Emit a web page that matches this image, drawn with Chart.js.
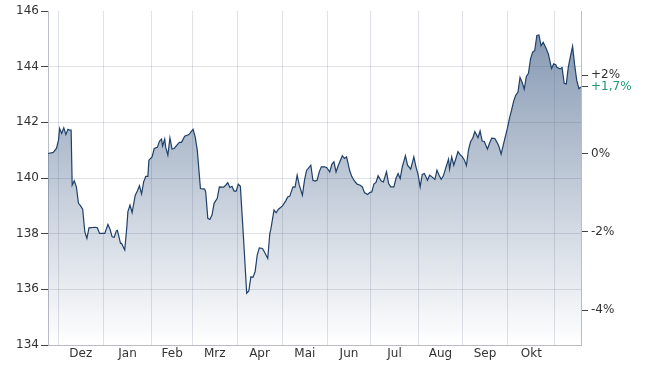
<!DOCTYPE html>
<html>
<head>
<meta charset="utf-8">
<script src="https://cdn.jsdelivr.net/npm/chart.js@4"></script>
<style>
  html, body { margin: 0; background: #fff; }
  #wrap { width: 650px; height: 370px; }
</style>
</head>
<body>
<div id="wrap"><canvas id="chart"></canvas></div>
<script>
// trading-day index (0 = first day shown) and closing price
const days = [
  0, 2.5, 4, 5, 5.5, 6.5, 7.5, 8.5, 9.5, 10, 11, 11.5, 12.5, 13.5, 14.5, 15.5, 16.5, 17.5, 18.5, 19.5,
  22.5, 23.5, 24.5, 27, 28.5, 29.5, 30.5, 31.5, 32.5, 33, 34.5, 35, 36.5, 37.5, 38, 39, 40, 41.5, 42.5, 43.5,
  44.5, 45.5, 46.5, 47.5, 48, 49.5, 50.5, 52, 53, 54, 54.5, 55.5, 56, 57, 58, 59, 60, 61.5, 62.5, 63.5,
  65, 67, 69, 70, 71, 72.5, 74.5, 75, 76, 77, 78, 79, 80.5, 81.5, 83.5, 84.5, 85.5, 86.5, 87.5, 88.5,
  89.5, 90.5, 91.5, 93, 94.5, 95.5, 96.5, 97.5, 98.5, 99.5, 100.5, 102, 103, 104.5, 105.5, 106, 107.5, 108.5, 109.5, 111.5,
  113, 114, 115, 116.5, 117.5, 118.5, 119.5, 121, 122, 123, 124, 125, 126, 127, 128, 129, 130, 131.5, 132.5, 134,
  135, 136, 137, 138, 140, 141, 142, 143.5, 144.5, 145.5, 147, 148.5, 149.5, 150.5, 152, 153, 154, 155, 156, 157,
  158.5, 159.5, 161, 162, 163, 164.5, 165.5, 166.5, 167.5, 168.5, 170, 171, 172.5, 174, 175, 176, 177, 178, 179, 180.5,
  181.5, 182.5, 184, 185, 186, 187, 188, 189.5, 190.5, 191, 192, 193, 194, 195, 196, 197, 198, 199, 200, 201,
  202, 203, 204.5, 205.5, 206.5, 207.5, 209, 210, 211, 212.5, 213.5, 214.5, 215.5, 216.5, 217.5, 218.5, 219.5, 220.5, 221.5, 222.5,
  223.5, 224.5, 225.5, 226.5, 227.5, 228.5, 229.5, 230.5, 231.5, 232.5, 233.5, 234.5, 235.5, 237, 238, 239.5, 240.5, 241.5, 242, 243.5,
  244.5, 245.5, 246.5, 247.5, 248.5, 249.5, 250.5, 251.5, 252.5, 253.5
];
const prices = [
  140.88, 140.92, 141.06, 141.36, 141.78, 141.6, 141.8, 141.56, 141.75, 141.73, 141.72, 139.74, 139.9, 139.68, 139.09, 139.0, 138.88, 138.07, 137.83, 138.21,
  138.23, 138.21, 138.01, 138.01, 138.33, 138.16, 137.89, 137.87, 138.1, 138.12, 137.65, 137.65, 137.41, 138.25, 138.79, 139.03, 138.76, 139.38, 139.53, 139.72,
  139.43, 139.86, 140.06, 140.06, 140.64, 140.76, 141.06, 141.1, 141.32, 141.4, 141.15, 141.4, 141.1, 140.82, 141.44, 141.04, 141.06, 141.2, 141.28, 141.28,
  141.5, 141.56, 141.75, 141.48, 141.0, 139.62, 139.6, 139.5, 138.55, 138.51, 138.67, 139.09, 139.27, 139.68, 139.67, 139.74, 139.83, 139.66, 139.7, 139.53,
  139.53, 139.78, 139.7, 137.83, 135.86, 135.94, 136.45, 136.43, 136.63, 137.23, 137.49, 137.47, 137.33, 137.11, 138.01, 138.16, 138.85, 138.75, 138.87, 139.0,
  139.17, 139.32, 139.35, 139.68, 139.67, 140.1, 139.75, 139.38, 139.92, 140.28, 140.36, 140.46, 139.92, 139.89, 139.92, 140.22, 140.4, 140.4, 140.38, 140.22,
  140.49, 140.58, 140.22, 140.44, 140.8, 140.7, 140.76, 140.26, 140.05, 139.92, 139.78, 139.74, 139.68, 139.48, 139.41, 139.48, 139.5, 139.78, 139.84, 140.08,
  139.89, 139.86, 140.22, 139.8, 139.68, 139.68, 139.98, 140.16, 139.98, 140.4, 140.8, 140.46, 140.32, 140.76, 140.4, 140.13, 139.68, 140.13, 140.16, 139.92,
  140.1, 140.05, 139.95, 140.28, 140.1, 139.95, 140.07, 140.44, 140.68, 140.32, 140.76, 140.46, 140.7, 140.95, 140.84, 140.77, 140.65, 140.45, 141.01, 141.31,
  141.43, 141.67, 141.45, 141.69, 141.33, 141.31, 141.04, 141.25, 141.43, 141.42, 141.29, 141.13, 140.86, 141.17, 141.49, 141.79, 142.15, 142.45, 142.77, 142.98,
  143.08, 143.61, 143.44, 143.19, 143.65, 143.76, 144.28, 144.52, 144.58, 145.12, 145.14, 144.75, 144.88, 144.64, 144.45, 143.93, 144.1, 144.07, 143.98, 143.92,
  143.97, 143.4, 143.38, 144.0, 144.38, 144.73, 144.05, 143.5, 143.21, 143.27
];

// month boundaries (trading-day index) and the labels shown between them
const monthStarts = [4.9, 26.3, 49.4, 68.7, 89.9, 111.3, 133, 153.3, 176.3, 197, 218.7, 241.1];
const monthLabels = ['Dez', 'Jan', 'Feb', 'Mrz', 'Apr', 'Mai', 'Jun', 'Jul', 'Aug', 'Sep', 'Okt'];
const priceTicks = [134, 136, 138, 140, 142, 144, 146];
const pctTicks = [-4, -2, 0, 2];

const base = prices[0];
const lastPct = (prices[prices.length - 1] / base - 1) * 100;
const toPct = v => (v / base - 1) * 100;

const FONT = { family: 'DejaVu Sans', size: 12 };
const TEXT = '#333';
const GRID = 'rgba(30, 40, 80, 0.14)';
const AXIS = '#b9bcc3';
const GREEN = '#1f9a6e';

// x ticks: gridlines at month starts, labels at month middles
const xTicks = [];
monthStarts.forEach((m, i) => {
  xTicks.push({ value: m, grid: true, label: '' });
  if (i < monthLabels.length) {
    xTicks.push({ value: (m + monthStarts[i + 1]) / 2, grid: false, label: monthLabels[i] });
  }
});

const ctx = document.getElementById('chart').getContext('2d');
new Chart(ctx, {
  type: 'line',
  data: {
    datasets: [{
      data: days.map((d, i) => ({ x: d, y: prices[i] })),
      borderColor: '#1f4068',
      borderWidth: 1.2,
      pointRadius: 0,
      tension: 0,
      fill: 'start',
      backgroundColor: c => {
        const area = c.chart.chartArea;
        if (!area) return 'rgba(65,95,135,0.3)';
        const g = c.chart.ctx.createLinearGradient(0, area.top, 0, area.bottom);
        g.addColorStop(0, 'rgba(65,95,135,0.68)');
        g.addColorStop(1, 'rgba(65,95,135,0.0)');
        return g;
      }
    }]
  },
  options: {
    responsive: true,
    maintainAspectRatio: false,
    animation: false,
    layout: { padding: { top: 11, left: 0, right: 0, bottom: 0 } },
    plugins: { legend: { display: false }, tooltip: { enabled: false } },
    scales: {
      x: {
        type: 'linear',
        min: 0,
        max: days[days.length - 1],
        z: 1,
        afterBuildTicks: s => { s.ticks = xTicks.map(t => ({ ...t })); },
        afterFit: s => { s.height = 25; },
        ticks: {
          autoSkip: false,
          maxRotation: 0,
          padding: 2,
          color: TEXT,
          font: FONT,
          callback: (v, i, ticks) => ticks[i].label
        },
        grid: {
          drawTicks: false,
          color: c => (c.tick && c.tick.grid ? GRID : 'rgba(0,0,0,0)')
        },
        border: { color: AXIS }
      },
      y: {
        position: 'left',
        min: 134,
        max: 146,
        z: 1,
        afterBuildTicks: s => { s.ticks = priceTicks.map(v => ({ value: v })); },
        afterFit: s => { s.width = 48; },
        ticks: { color: TEXT, font: FONT, padding: 2 },
        grid: {
          tickLength: 7,
          tickColor: '#444',
          color: c => (c.tick && c.tick.value === 146 ? 'rgba(0,0,0,0)' : GRID)
        },
        border: { color: AXIS }
      },
      y1: {
        position: 'right',
        min: toPct(134),
        max: toPct(146),
        afterBuildTicks: s => {
          s.ticks = [...pctTicks, lastPct].sort((a, b) => a - b).map(v => ({ value: v }));
        },
        afterFit: s => { s.width = 69; },
        ticks: {
          font: FONT,
          padding: 3,
          color: c => (c.tick && c.tick.value === lastPct ? GREEN : TEXT),
          callback: v => {
            if (v === lastPct) return '+' + v.toFixed(1).replace('.', ',') + '%';
            return (v > 0 ? '+' : '') + v + '%';
          }
        },
        grid: { drawOnChartArea: false, tickLength: 7, tickColor: '#444' },
        border: { color: AXIS }
      }
    }
  }
});
</script>
</body>
</html>
